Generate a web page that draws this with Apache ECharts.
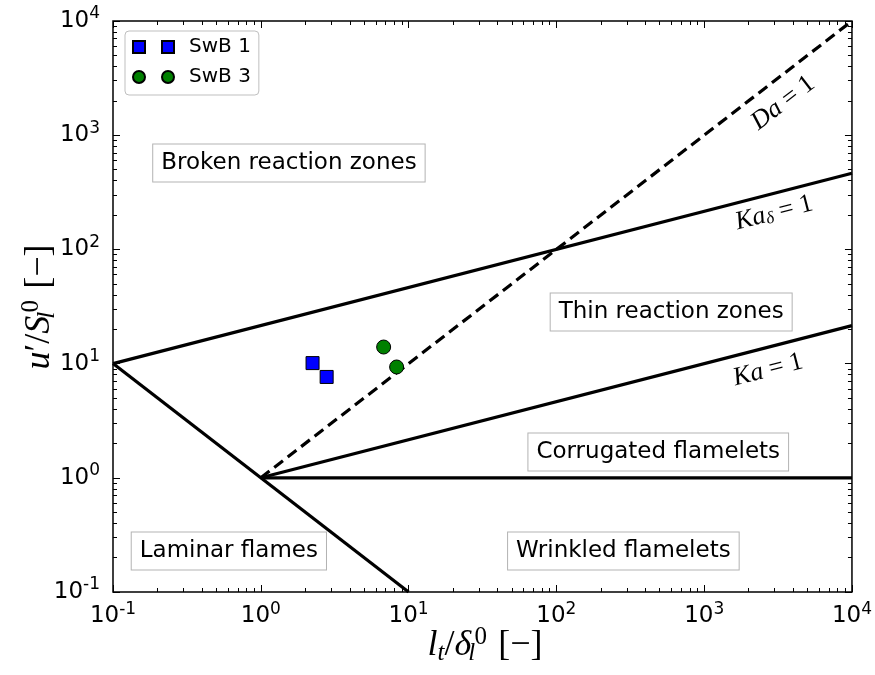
<!DOCTYPE html>
<html><head><meta charset="utf-8">
<script src="https://cdn.jsdelivr.net/npm/echarts@6/dist/echarts.min.js"></script>
<style>html,body{margin:0;padding:0;background:#fff}#c{width:875px;height:675px}</style>
</head><body><div id="c"></div>
<script>
// ---- data ----
const tickValues = [0.1, 1, 10, 100, 1000, 10000];
const tickExponents = ['-1', '0', '1', '2', '3', '4'];
const minorMultipliers = [2, 3, 4, 5, 6, 7, 8, 9];

const swb1 = [[2.24, 10.1], [2.79, 7.64]];
const swb3 = [[6.78, 13.97], [8.3, 9.34]];

const laminarLine = [[0.1, 10], [10, 0.1]];
const kaDeltaLine = [[0.1, 10], [10000, 464]];
const kaLine = [[1, 1], [10000, 21.5]];
const daLine = [[1, 1], [10000, 10000]];
const unityLine = [[1, 1], [10000, 1]];

const regionNames = ['Broken reaction zones', 'Thin reaction zones', 'Corrugated flamelets', 'Laminar flames', 'Wrinkled flamelets'];
const regionX = [1.55, 598, 489, 0.608, 284];
const regionY = [571, 28.3, 1.68, 0.2286, 0.2286];

const lineLabelTexts = ['{i|Da}{n| = 1}', '{i|Ka}{d|δ}{n| = 1}', '{i|Ka}{n| = 1}'];
const lineLabelX = [3420, 2972, 2705];
const lineLabelY = [1914, 208, 8.79];
const lineLabelAngles = [37.6, 14.4, 14.4];

// minor tick positions (2..9 x each decade)
const minorValues = [];
for (let k = 0; k < tickValues.length - 1; k++) {
  minorMultipliers.forEach(m => minorValues.push(+(m * tickValues[k]).toPrecision(6)));
}

const SANS = 'DejaVu Sans';
const SERIF = 'Liberation Serif';

function expLabel(v) {
  const e = Math.round(Math.log10(v));
  const idx = tickValues.findIndex(t => Math.round(Math.log10(t)) === e);
  return '{b|10}{s|' + tickExponents[idx] + '}';
}
const tickRich = {
  b: { fontSize: 23, fontFamily: SANS, color: '#000' },
  s: { fontSize: 17, fontFamily: SANS, color: '#000', padding: [0, 0, 14, 0] }
};

function makeAxis(dim, position, values, len, withLabels) {
  const ax = {
    type: 'log', logBase: 10, min: 0.1, max: 10000, position: position,
    axisLine: { show: false }, splitLine: { show: false },
    axisTick: { show: true, inside: true, length: len, customValues: values, lineStyle: { color: '#000', width: 1 } },
    axisLabel: { show: false }
  };
  if (withLabels) {
    ax.axisLabel = {
      show: true, customValues: tickValues, formatter: expLabel, rich: tickRich,
      margin: dim === 'x' ? 9 : 13, hideOverlap: false, showMinLabel: true, showMaxLabel: true
    };
  }
  return ax;
}

const titleRich = {
  i: { fontFamily: SERIF, fontStyle: 'italic', fontSize: 36, fill: '#000' },
  n: { fontFamily: SERIF, fontSize: 36, fill: '#000' },
  s: { fontFamily: SERIF, fontStyle: 'italic', fontSize: 25, fill: '#000', padding: [14, 0, 0, 0] },
  z: { fontFamily: SERIF, fontStyle: 'italic', fontSize: 25, fill: '#000', padding: [14, 0, 0, 0], width: 1 },
  u: { fontFamily: SERIF, fontSize: 25, fill: '#000', padding: [0, 0, 17, 0], width: 17 }
};

const chart = echarts.init(document.getElementById('c'), null, { renderer: 'canvas' });
const option = {
  animation: false,
  backgroundColor: '#fff',
  grid: { left: 113, right: 22, top: 21, bottom: 83, show: true, borderColor: '#000', borderWidth: 1.5, backgroundColor: 'transparent' },
  xAxis: [
    makeAxis('x', 'bottom', tickValues, 7, true),
    makeAxis('x', 'bottom', minorValues, 4, false),
    makeAxis('x', 'top', tickValues, 7, false),
    makeAxis('x', 'top', minorValues, 4, false)
  ],
  yAxis: [
    makeAxis('y', 'left', tickValues, 7, true),
    makeAxis('y', 'left', minorValues, 4, false),
    makeAxis('y', 'right', tickValues, 7, false),
    makeAxis('y', 'right', minorValues, 4, false)
  ],
  legend: {
    left: 125, top: 31, orient: 'vertical',
    backgroundColor: '#fff', borderColor: '#bfbfbf', borderWidth: 1, borderRadius: 4,
    padding: [6, 8, 8, 7], itemGap: 10, itemWidth: 41, itemHeight: 12,
    textStyle: { fontFamily: SANS, fontSize: 20, color: '#000', lineHeight: 20, padding: [0, 0, 0, 10] },
    selectedMode: false,
    data: [
      { name: 'SwB 1', icon: 'path://M0,0h12v12h-12z M29,0h12v12h-12z' },
      { name: 'SwB 3', icon: 'path://M0,6a6,6 0 1,0 12,0a6,6 0 1,0 -12,0z M29,6a6,6 0 1,0 12,0a6,6 0 1,0 -12,0z' }
    ]
  },
  graphic: [
    {
      type: 'text', x: 485, y: 646, silent: true,
      style: { text: '{i|l}{s|t}{n|/}{i|δ}{z|l}{u|0}{n| [−]}', rich: titleRich, align: 'center', verticalAlign: 'middle' }
    },
    {
      type: 'text', x: 40, y: 307, rotation: Math.PI / 2, silent: true,
      style: { text: '{i|u}{n|′/}{i|S}{z|l}{u|0}{n| [−]}', rich: titleRich, align: 'center', verticalAlign: 'middle' }
    }
  ],
  series: [
    { type: 'line', data: laminarLine, symbol: 'none', silent: true, lineStyle: { color: '#000', width: 3.2 }, z: 2 },
    { type: 'line', data: kaDeltaLine, symbol: 'none', silent: true, lineStyle: { color: '#000', width: 3.2 }, z: 2 },
    { type: 'line', data: kaLine, symbol: 'none', silent: true, lineStyle: { color: '#000', width: 3.2 }, z: 2 },
    { type: 'line', data: unityLine, symbol: 'none', silent: true, lineStyle: { color: '#000', width: 3.2 }, z: 2 },
    { type: 'line', data: daLine, symbol: 'none', silent: true, lineStyle: { color: '#000', width: 3.2, type: [11, 6] }, z: 2 },
    {
      type: 'scatter', silent: true, symbolSize: 0, itemStyle: { color: 'transparent' }, z: 3,
      data: regionNames.map((n, i) => ({ name: n, value: [regionX[i], regionY[i]] })),
      label: {
        show: true, position: 'inside', formatter: '{b}', color: '#000', opacity: 1, textBorderWidth: 0,
        fontFamily: SANS, fontSize: 23, lineHeight: 23,
        backgroundColor: '#fff', borderColor: '#b3b3b3', borderWidth: 1, padding: [7, 8, 7, 8]
      }
    },
    {
      type: 'scatter', silent: true, symbolSize: 0, itemStyle: { color: 'transparent' }, z: 3,
      data: lineLabelTexts.map((t, i) => ({
        value: [lineLabelX[i], lineLabelY[i]],
        label: { formatter: t, rotate: lineLabelAngles[i] }
      })),
      label: {
        show: true, position: 'inside', color: '#000', opacity: 1, textBorderWidth: 0,
        rich: {
          i: { fontFamily: SERIF, fontStyle: 'italic', fontSize: 26, color: '#000', textBorderWidth: 0 },
          n: { fontFamily: SERIF, fontSize: 26, color: '#000', textBorderWidth: 0 },
          d: { fontFamily: SERIF, fontStyle: 'italic', fontSize: 17, color: '#000', textBorderWidth: 0, padding: [9, 0, 0, 0] }
        }
      }
    },
    { name: 'SwB 1', type: 'scatter', data: swb1, symbol: 'rect', symbolSize: 13, z: 4,
      itemStyle: { color: '#0000ff', borderColor: '#000', borderWidth: 1, opacity: 1 } },
    { name: 'SwB 3', type: 'scatter', data: swb3, symbol: 'circle', symbolSize: 14, z: 4,
      itemStyle: { color: '#008000', borderColor: '#000', borderWidth: 1, opacity: 1 } }
  ]
};
chart.setOption(option);
</script>
</body></html>
